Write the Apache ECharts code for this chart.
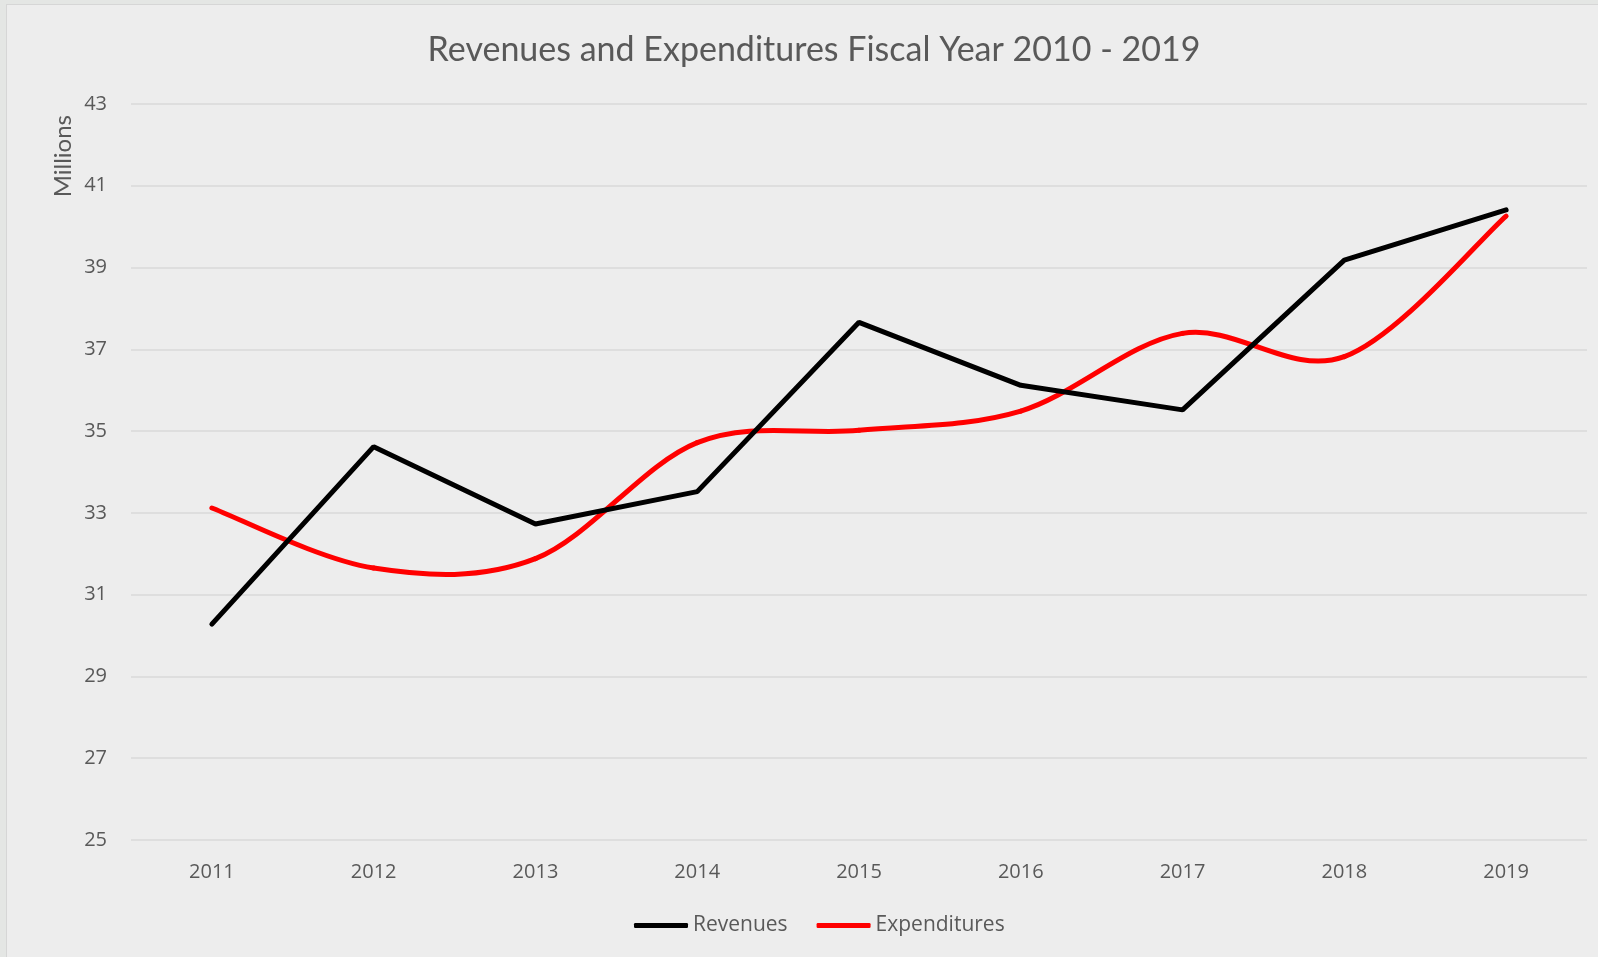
<!DOCTYPE html>
<html>
<head>
<meta charset="utf-8">
<script src="https://cdn.jsdelivr.net/npm/echarts@6/dist/echarts.min.js"></script>
<style>
  html, body { margin: 0; padding: 0; background: #e4e6e4; }
  #main {
    position: absolute; left: 6px; top: 4px;
    width: 1592px; height: 953px;
    background: #ededed;
    border-left: 1px solid #d6d6d6; border-top: 1px solid #d6d6d6;
  }
</style>
</head>
<body>
<div id="main"></div>
<script>
const years = ["2011", "2012", "2013", "2014", "2015", "2016", "2017", "2018", "2019"];
const revenues = [30.28, 34.62, 32.73, 33.52, 37.66, 36.12, 35.52, 39.18, 40.41];
const expenditures = [33.12, 31.65, 31.88, 34.72, 35.02, 35.49, 37.39, 36.82, 40.26];

const myChart = echarts.init(document.getElementById("main"));

const textColor = "#595959";

// smoothed line like the spreadsheet one: one bezier segment per data point
function smoothSegment(params, api) {
  const i = params.dataIndex;
  const n = expenditures.length;
  if (i >= n - 1) return null;
  const pt = (j) => {
    const k = Math.max(0, Math.min(n - 1, j));
    return api.coord([k, expenditures[k]]);
  };
  const p0 = pt(i - 1), p1 = pt(i), p2 = pt(i + 1), p3 = pt(i + 2);
  return {
    type: "bezierCurve",
    shape: {
      x1: p1[0], y1: p1[1],
      x2: p2[0], y2: p2[1],
      cpx1: p1[0] + (p2[0] - p0[0]) / 6,
      cpy1: p1[1] + (p2[1] - p0[1]) / 6,
      cpx2: p2[0] - (p3[0] - p1[0]) / 6,
      cpy2: p2[1] - (p3[1] - p1[1]) / 6,
    },
    style: { stroke: "#ff0000", lineWidth: 5, fill: null, lineCap: "round" },
  };
}

const option = {
  animation: false,
  title: {
    text: "Revenues and Expenditures Fiscal Year 2010 - 2019",
    left: 802,
    top: 23,
    textAlign: "center",
    textStyle: { fontFamily: "Lato", fontWeight: "normal", fontSize: 34, color: textColor },
  },
  graphic: [
    {
      type: "text",
      left: 44,
      top: 110,
      rotation: Math.PI / 2,
      style: { text: "Millions", font: "24px Lato", fill: textColor },
    },
  ],
  legend: {
    bottom: 17,
    left: 622,
    itemWidth: 54,
    itemHeight: 5,
    itemGap: 29,
    textStyle: { fontFamily: "Open Sans", fontSize: 21, color: textColor },
    data: [
      { name: "Revenues", icon: "roundRect" },
      { name: "Expenditures", icon: "roundRect" },
    ],
  },
  grid: { left: 124, right: 12, top: 99, bottom: 118 },
  xAxis: {
    type: "category",
    data: years,
    axisLine: { show: false },
    axisTick: { show: false },
    axisLabel: { fontFamily: "Open Sans", fontSize: 20, color: textColor, margin: 22 },
  },
  yAxis: {
    type: "value",
    min: 25,
    max: 43,
    interval: 2,
    axisLine: { show: false },
    axisTick: { show: false },
    axisLabel: { fontFamily: "Open Sans", fontSize: 20, color: textColor, margin: 24 },
    splitLine: { lineStyle: { color: "#d9d9d9", width: 1.5 } },
  },
  series: [
    {
      name: "Revenues",
      type: "line",
      data: revenues,
      symbol: "none",
      color: "#000000",
      lineStyle: { width: 5, color: "#000000", cap: "round" },
    },
    {
      name: "Expenditures",
      type: "custom",
      data: expenditures.map((v, i) => [i, v]),
      encode: { x: 0, y: 1 },
      itemStyle: { color: "#ff0000" },
      renderItem: smoothSegment,
    },
  ],
};

myChart.setOption(option);
</script>
</body>
</html>
